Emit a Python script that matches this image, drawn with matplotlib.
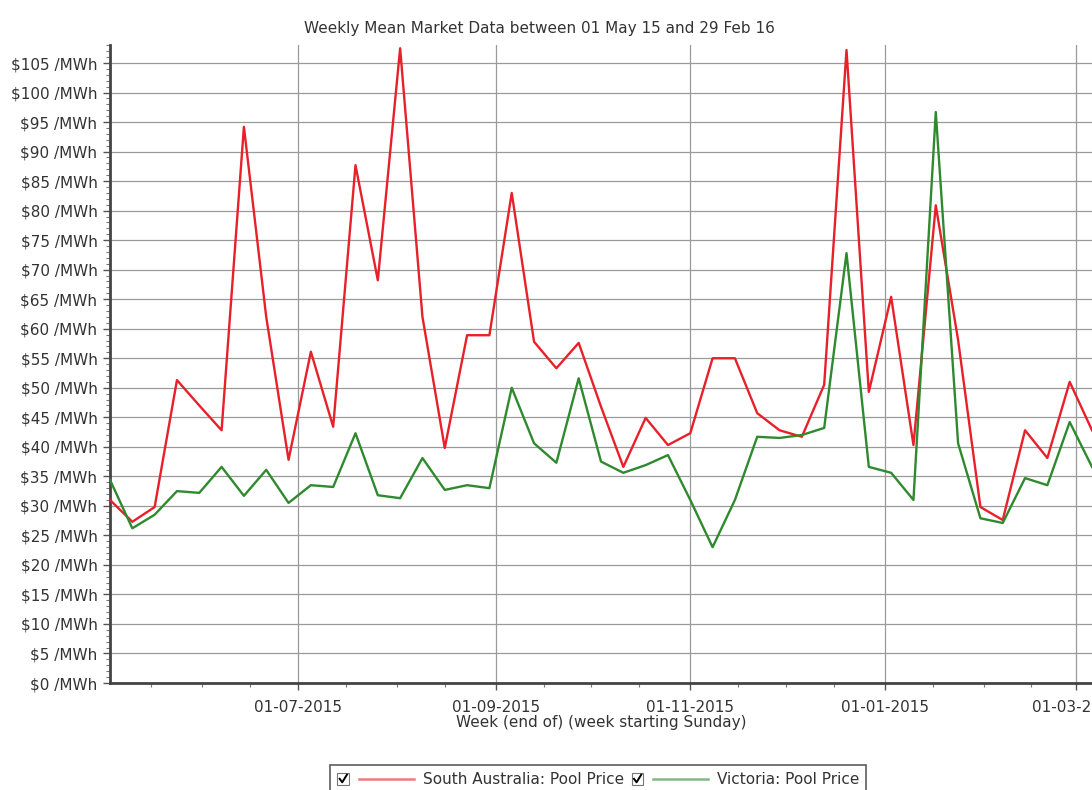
import numpy as np
import pandas as pd
import matplotlib
matplotlib.use("Agg")
import matplotlib.pyplot as plt
import matplotlib.dates as mdates
from matplotlib.ticker import MultipleLocator
from matplotlib.legend_handler import HandlerBase
from matplotlib.lines import Line2D
from matplotlib.patches import Rectangle

# weekly points, first week plotted at 03-05-2015
weeks = pd.date_range("2015-05-03", periods=45, freq="7D")

sa_price = [31.0, 27.3, 29.8, 51.3, 47.0, 42.8, 94.2, 62.0, 37.8, 56.1,
            43.4, 87.7, 68.2, 107.5, 62.0, 39.8, 58.9, 58.9, 83.0, 57.8,
            53.3, 57.6, 46.8, 36.6, 44.9, 40.3, 42.3, 55.0, 55.0, 45.7,
            42.8, 41.7, 50.5, 107.2, 49.3, 65.4, 40.3, 80.9, 58.1, 29.8,
            27.6, 42.8, 38.1, 51.0, 42.8]
vic_price = [34.4, 26.2, 28.5, 32.5, 32.2, 36.6, 31.7, 36.1, 30.5, 33.5,
             33.2, 42.3, 31.8, 31.3, 38.1, 32.7, 33.5, 33.0, 50.0, 40.6,
             37.3, 51.6, 37.5, 35.6, 36.9, 38.6, 31.0, 23.0, 31.0, 41.7,
             41.5, 42.0, 43.2, 72.8, 36.6, 35.6, 31.0, 96.7, 40.6, 27.9,
             27.1, 34.7, 33.5, 44.2, 36.6]

series_names = ["South Australia: Pool Price", "Victoria: Pool Price"]
series_colors = ["#e8202a", "#2f8a2f"]

xtick_dates = pd.to_datetime(["2015-07-01", "2015-09-01", "2015-11-01",
                              "2016-01-01", "2016-03-01"])
xtick_labels = ["01-07-2015", "01-09-2015", "01-11-2015", "01-01-2015", "01-03-2015"]
ytick_values = list(range(0, 110, 5))
ytick_labels = [f"\\${v} /MWh" for v in ytick_values]

FS = 11


class CheckLineHandler(HandlerBase):
    # checkbox + coloured line, like the original chart legend
    def create_artists(self, legend, orig_handle, xdescent, ydescent,
                       width, height, fontsize, trans):
        s = height * 1.1
        y0 = -ydescent + (height - s) / 2
        box = Rectangle((-xdescent, y0), s, s, facecolor="white",
                        edgecolor="#777777", lw=0.8, transform=trans)
        tick = Line2D([-xdescent + s * 0.2, -xdescent + s * 0.42, -xdescent + s * 0.82],
                      [y0 + s * 0.5, y0 + s * 0.2, y0 + s * 0.85],
                      color="black", lw=1.4, transform=trans)
        yc = -ydescent + height / 2
        line = Line2D([-xdescent + s + 7, -xdescent + width], [yc, yc],
                      color=orig_handle.get_color(), lw=1.8, alpha=0.6, transform=trans)
        return [box, tick, line]


fig = plt.figure(figsize=(10.92, 7.90), dpi=100)
ax = fig.add_axes([110 / 1092, 1 - 683 / 790, 1 - 110 / 1092, 637.7 / 790])

lines = []
for vals, name, col in zip([sa_price, vic_price], series_names, series_colors):
    ln, = ax.plot(weeks, vals, color=col, lw=1.7, label=name, zorder=3)
    lines.append(ln)

ax.set_xlim(pd.Timestamp("2015-05-03"), pd.Timestamp("2016-03-06"))
ax.set_ylim(0, 108)

ax.set_yticks(ytick_values, ytick_labels)
ax.yaxis.set_minor_locator(MultipleLocator(1))
ax.set_xticks(xtick_dates, xtick_labels)
ax.xaxis.set_minor_locator(mdates.DayLocator(bymonthday=[1, 16]))

ax.grid(True, which="major", color="#9a9a9a", lw=0.9)
ax.tick_params(axis="both", which="major", labelsize=FS, colors="#555555",
               labelcolor="#333333", length=5, width=1)
ax.tick_params(axis="both", which="minor", colors="#777777", length=3, width=0.8)
ax.tick_params(axis="x", pad=7)
ax.tick_params(axis="y", pad=4)

for side in ["top", "right"]:
    ax.spines[side].set_visible(False)
for side in ["left", "bottom"]:
    ax.spines[side].set_color("#444444")
    ax.spines[side].set_linewidth(2)

ax.set_xlabel("Week (end of) (week starting Sunday)", fontsize=FS, color="#333333", labelpad=0)
fig.text(0.494, 0.964, "Weekly Mean Market Data between 01 May 15 and 29 Feb 16",
         ha="center", va="center", fontsize=FS, color="#333333")

leg = fig.legend(lines, series_names, loc="upper center", bbox_to_anchor=(0.548, 0.041),
                 ncol=2, fontsize=FS, frameon=True, fancybox=False, shadow=False,
                 handlelength=5.0, handletextpad=0.6, columnspacing=0.5,
                 borderpad=0.45, handler_map={Line2D: CheckLineHandler()})
leg.get_frame().set_edgecolor("#333333")
leg.get_frame().set_linewidth(1.2)
for t in leg.get_texts():
    t.set_color("#333333")

fig.savefig("out.png", dpi=100)
